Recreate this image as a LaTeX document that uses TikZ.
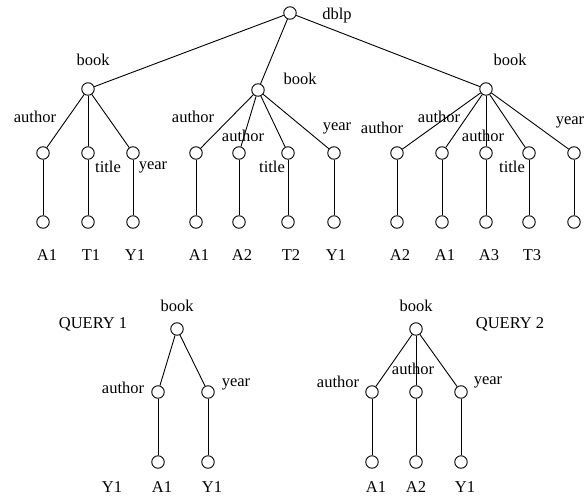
\documentclass[tikz,border=0pt]{standalone}
\usepackage{fontspec}
\setmainfont{Liberation Serif}
\begin{document}
\begin{tikzpicture}[x=1pt,y=-1pt,line width=0.9pt,
  n/.style={circle,draw,minimum size=12.5pt,inner sep=0pt},
  lab/.style={font=\fontsize{16.5}{18}\selectfont,inner sep=0pt}]
\useasboundingbox (0,0) rectangle (587,501);
% root
\node[n] (r) at (290,13) {};
\node[lab] (rl) at (337,16) {dblp};
% books
\node[n] (b1) at (88,89) {};
\node[lab] (b1l) at (93,60) {book};
\node[n] (b2) at (258,90) {};
\node[lab] (b2l) at (300,79) {book};
\node[n] (b3) at (486,89) {};
\node[lab] (b3l) at (510,60) {book};
\draw (r) -- (b1);
\draw (r) -- (b2);
\draw (r) -- (b3);
% book 1 children
\foreach \i/\x in {1/43,2/88,3/133}{
  \node[n] (m1\i) at (\x,153) {};
  \node[n] (l1\i) at (\x,222) {};
  \draw (b1) -- (m1\i);
  \draw (m1\i) -- (l1\i);
}
\foreach \i/\x in {1/196,2/239,3/288,4/334}{
  \node[n] (m2\i) at (\x,153) {};
  \node[n] (l2\i) at (\x,222) {};
  \draw (b2) -- (m2\i);
  \draw (m2\i) -- (l2\i);
}
\foreach \i/\x in {1/397,2/442,3/486,4/529,5/574}{
  \node[n] (m3\i) at (\x,153) {};
  \node[n] (l3\i) at (\x,222) {};
  \draw (b3) -- (m3\i);
  \draw (m3\i) -- (l3\i);
}
% edge labels tree 1
\node[lab] (e11) at (35,117) {author};
\node[lab] (e12) at (108,167) {title};
\node[lab] (e13) at (153,167) {year};
\node[lab] (e21) at (193,117) {author};
\node[lab] (e22) at (243,136) {author};
\node[lab] (e23) at (272,167) {title};
\node[lab] (e24) at (337,128) {year};
\node[lab] (e31) at (382,128) {author};
\node[lab] (e32) at (439,117) {author};
\node[lab] (e33) at (483,136) {author};
\node[lab] (e34) at (512,167) {title};
\node[lab] (e35) at (570,122) {year};
% leaf labels
\foreach \t/\x [count=\k] in {A1/47,T1/91,Y1/135,A1/199,A2/242,T2/291,Y1/336,A2/400,A1/445,A3/489,T3/532}{
  \node[lab] (v\k) at (\x,255) {\t};
}
% query 1
\node[n] (q1) at (177,329) {};
\node[lab] (q1l) at (177,306) {book};
\node[lab] (q1t) at (93,324) {QUERY 1};
\node[n] (q1a) at (158,392) {};
\node[n] (q1b) at (208,392) {};
\node[n] (q1c) at (158,462) {};
\node[n] (q1d) at (208,462) {};
\draw (q1) -- (q1a);
\draw (q1) -- (q1b);
\draw (q1a) -- (q1c);
\draw (q1b) -- (q1d);
\node[lab] (q1al) at (123,388) {author};
\node[lab] (q1bl) at (236,384) {year};
\node[lab] (q1v1) at (112,487) {Y1};
\node[lab] (q1v2) at (162,487) {A1};
\node[lab] (q1v3) at (212,487) {Y1};
% query 2
\node[n] (q2) at (416,329) {};
\node[lab] (q2l) at (416,306) {book};
\node[lab] (q2t) at (510,324) {QUERY 2};
\node[n] (q2a) at (372,392) {};
\node[n] (q2b) at (416,392) {};
\node[n] (q2c) at (461,392) {};
\node[n] (q2d) at (372,462) {};
\node[n] (q2e) at (416,462) {};
\node[n] (q2f) at (461,462) {};
\draw (q2) -- (q2a);
\draw (q2) -- (q2b);
\draw (q2) -- (q2c);
\draw (q2a) -- (q2d);
\draw (q2b) -- (q2e);
\draw (q2c) -- (q2f);
\node[lab] (q2al) at (338,382) {author};
\node[lab] (q2bl) at (413,369) {author};
\node[lab] (q2cl) at (488,382) {year};
\node[lab] (q2v1) at (376,487) {A1};
\node[lab] (q2v2) at (416,487) {A2};
\node[lab] (q2v3) at (465,487) {Y1};
\end{tikzpicture}
\end{document}
